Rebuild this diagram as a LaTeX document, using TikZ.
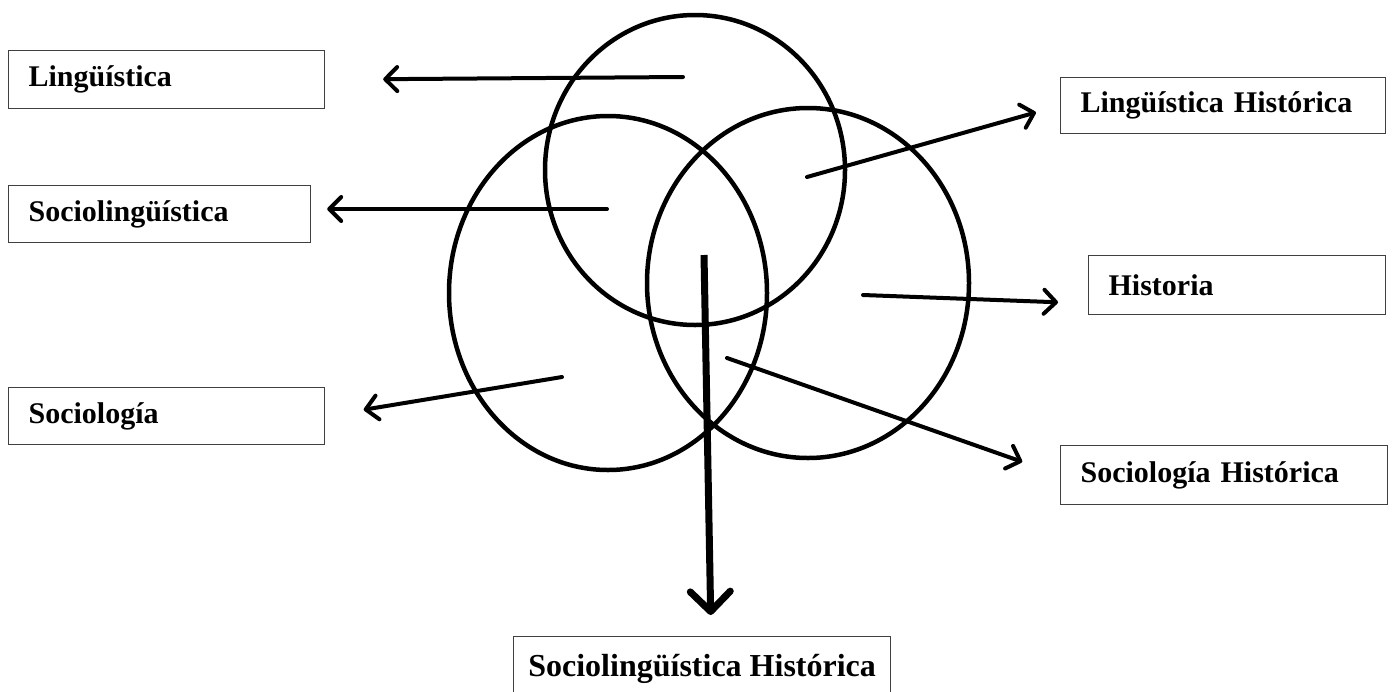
\documentclass[tikz,border=0pt]{standalone}
\usepackage{fontspec}
\setmainfont{Liberation Serif}
\usetikzlibrary{arrows.meta,positioning,calc}

\begin{document}
\begin{tikzpicture}[x=1pt,y=-1pt,
  fld/.style={draw=black!75,line width=1.2pt,anchor=north west,inner xsep=20pt,inner ysep=0pt,
    align=left,font=\fontsize{30}{34}\selectfont\bfseries},
  ring/.style={line width=4.5pt},
  arr/.style={line width=4pt,line cap=round,-{Straight Barb[length=12pt,width=24pt,round]}},
  bigarr/.style={line width=7pt,-{Straight Barb[length=20pt,width=40pt,round]}}]
  \useasboundingbox (0,0) rectangle (1394,691);
  % boxes
  \node[fld,text width=276pt,minimum height=58pt] (ling) at (8,50) {Lingüística};
  \node[fld,text width=262pt,minimum height=57pt] (sling) at (8,185) {Sociolingüística};
  \node[fld,text width=276pt,minimum height=57pt] (soc) at (8,387) {Sociología};
  \node[fld,text width=285pt,minimum height=56pt] (lhist) at (1060,77) {Lingüística Histórica};
  \node[fld,text width=257pt,minimum height=59pt] (hist) at (1088,255) {Historia};
  \node[fld,text width=287pt,minimum height=59pt] (shist) at (1060,445) {Sociología Histórica};
  \node[fld,inner xsep=0pt,minimum width=377pt,minimum height=64pt,
    font=\fontsize{32}{36}\selectfont\bfseries] (slhist) at (513,636) {Sociolingüística Histórica};
  % circles
  \draw[ring] (695,170) ellipse [x radius=150,y radius=155];
  \draw[ring] (608,293) ellipse [x radius=159,y radius=177];
  \draw[ring] (808,283) ellipse [x radius=161,y radius=175];
  % arrow tails
  \coordinate (tLing) at (683,77);
  \coordinate (tSling) at (607,209);
  \coordinate (tSoc) at (562,377);
  \coordinate (tLhist) at (807,177);
  \coordinate (tHist) at (863,295);
  \coordinate (tShist) at (727,358);
  \coordinate (tSlhist) at (704,255);
  \draw[arr,shorten >=58pt] (tLing) -- (ling.east);
  \draw[arr,shorten >=16pt] (tSling) -- (tSling -| sling.east);
  \draw[arr,shorten >=39pt] (tSoc) -- (soc.east);
  \draw[arr,shorten >=25pt] (tLhist) -- (lhist.west);
  \draw[arr,shorten >=30pt] (tHist) -- (hist.187);
  \draw[arr,shorten >=40pt] (tShist) -- (shist.west);
  \draw[bigarr,shorten >=21pt] (tSlhist) -- ([xshift=9pt]slhist.north);
\end{tikzpicture}
\end{document}
